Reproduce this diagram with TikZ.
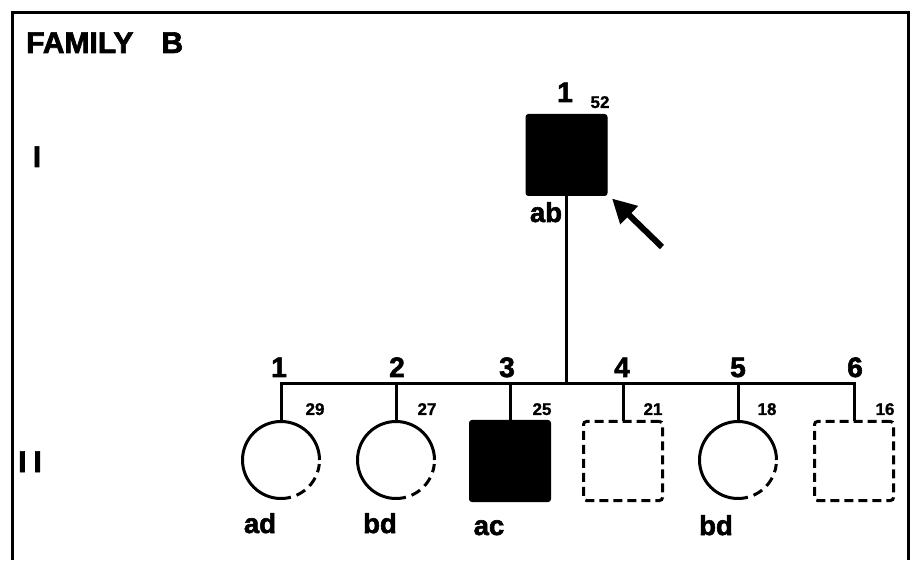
\documentclass[tikz,border=0pt]{standalone}
\usepackage{fontspec}
\setmainfont{Liberation Sans}[BoldFeatures={FakeBold=2.2}]
\newfontfamily\agefont{Liberation Sans}[UprightFont={* Bold}, UprightFeatures={FakeBold=1}]
\usetikzlibrary{arrows.meta}
\begin{document}
\begin{tikzpicture}[x=1pt,y=1pt,
  ln/.style={line width=3pt},
  aff/.style={draw, fill=black, line width=1pt, rounded corners=2.5pt, minimum size=81pt, inner sep=0pt, outer sep=0pt},
  unk/.style={draw, line width=3pt, dash pattern=on 9pt off 5pt, rounded corners=3pt, minimum size=79pt, inner sep=0pt, outer sep=0pt},
  fem/.style={circle, minimum size=77pt, inner sep=0pt, outer sep=0pt},
  gen/.style={font=\bfseries\fontsize{28}{28}\selectfont, anchor=base, inner sep=0pt},
  age/.style={font=\agefont\fontsize{17}{17}\selectfont, anchor=base, inner sep=0pt},
  geno/.style={font=\bfseries\fontsize{27.5}{27.5}\selectfont, anchor=base, inner sep=0pt},
  roman/.style={font=\bfseries\fontsize{30}{30}\selectfont, anchor=base, inner sep=0pt},
]
\useasboundingbox (0,0) rectangle (913,560);
\draw[line width=3pt] (12,0) -- (12,547) -- (908,547) -- (908,0);

\node[font=\bfseries\fontsize{30}{30}\selectfont, anchor=base west, inner sep=0pt] (title) at (26,507) {FAMILY\hspace{28pt}B};
\node[roman] (genI) at (37,393) {I};
\node[roman] (genII) at (30,88) {I\hspace{7pt}I};

% generation I
\node[aff] (p) at (566.5,405) {};
\node[gen] (pn) at (565,458) {1};
\node[age] (pa) at (600,452) {52};
\node[geno] (pg) at (546,338) {ab};
\coordinate (arrtail) at (662,313);
\draw[line width=6pt, -{Triangle[length=24pt,width=24pt]}] (arrtail) -- ([shift={(5,-3)}]p.south east);

% generation II
\coordinate (sib) at (0,176);
\node[fem] (c1) at (281,100) {};
\node[fem] (c2) at (396,100) {};
\node[aff] (c3) at (510,99) {};
\node[unk] (c4) at (623,99) {};
\node[fem] (c5) at (738,100) {};
\node[unk] (c6) at (854,99) {};

\foreach \c in {c1,c2,c5}{
  \draw[ln] (\c.0) arc[start angle=0, end angle=270, radius=38.5];
  \draw[ln, dash pattern=on 10pt off 6pt] (\c.-90) arc[start angle=-90, end angle=-6, radius=38.5];
}

\draw[ln] (c1.north) -- (c1.north |- sib) -- (c6.north |- sib) -- (c6.north);
\foreach \c in {c2,c3,c4,c5}{
  \draw[ln] (\c.north |- sib) -- (\c.north);
}
\draw[ln] (p.south) -- (p.south |- sib);

\node[gen] (n1) at (279,183) {1};
\node[gen] (n2) at (397,183) {2};
\node[gen] (n3) at (507,183) {3};
\node[gen] (n4) at (622,183) {4};
\node[gen] (n5) at (738,183) {5};
\node[gen] (n6) at (855,183) {6};

\node[age] (a1) at (315,145) {29};
\node[age] (a2) at (427,145) {27};
\node[age] (a3) at (542,145) {25};
\node[age] (a4) at (653,145) {21};
\node[age] (a5) at (767,145) {18};
\node[age] (a6) at (885,145) {16};

\node[geno] (g1) at (260,27) {ad};
\node[geno] (g2) at (380,27) {bd};
\node[geno] (g3) at (489,25) {ac};
\node[geno] (g5) at (716,25) {bd};
\end{tikzpicture}
\end{document}
